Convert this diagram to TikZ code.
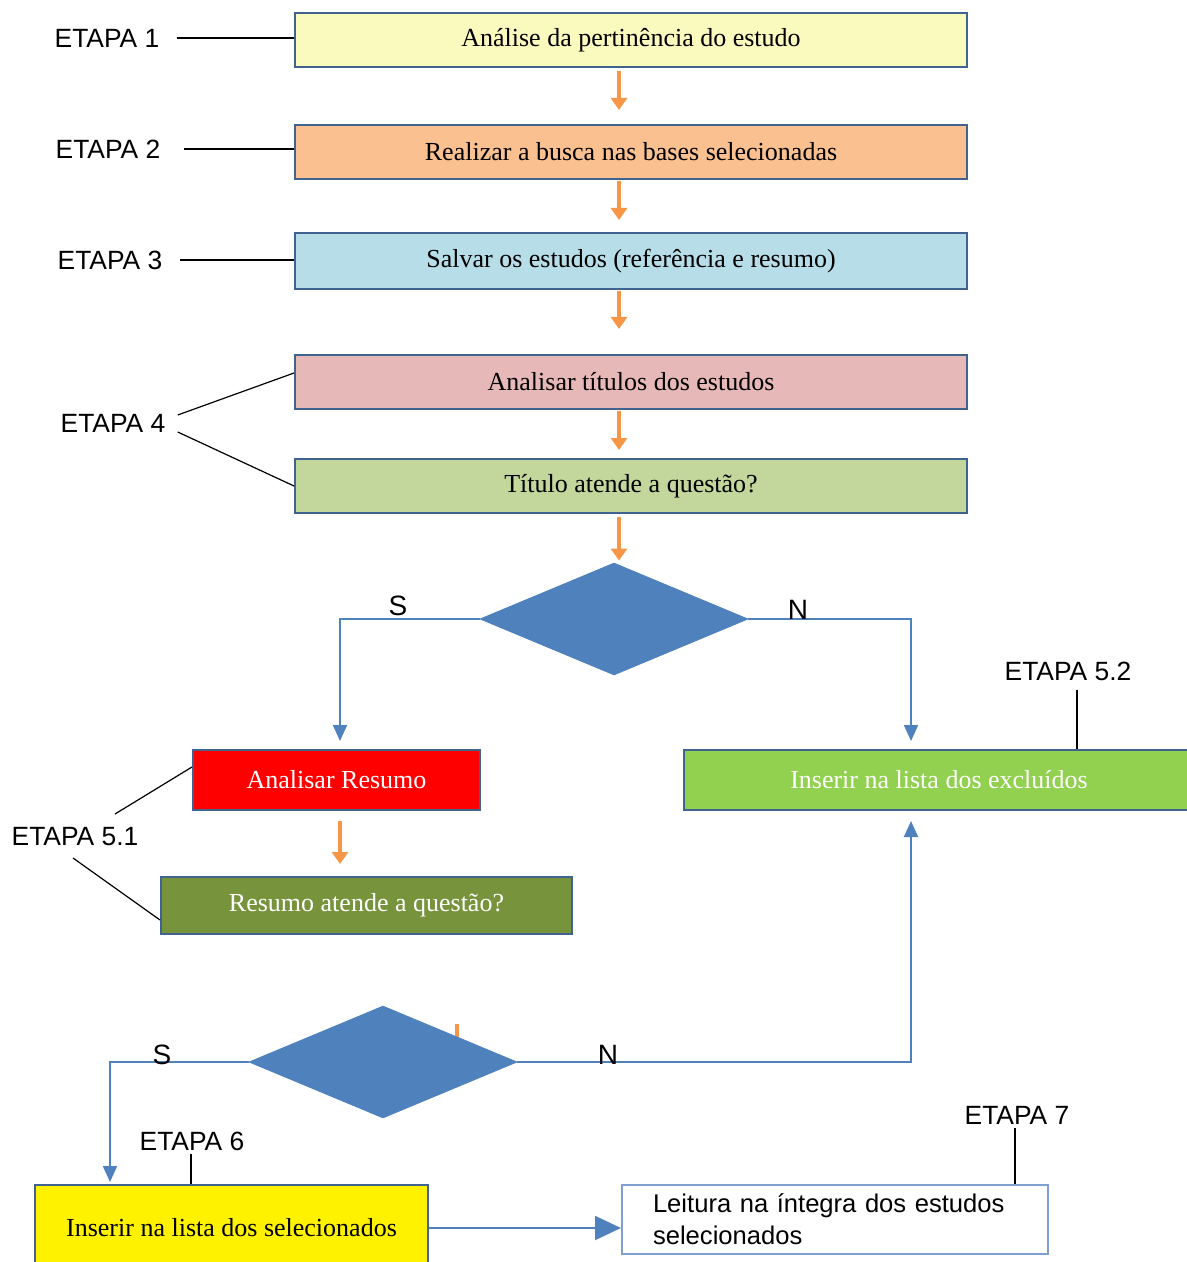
\documentclass[tikz,border=0pt]{standalone}
\usepackage{fontspec}
\setmainfont{Liberation Serif}
\newfontfamily\etapafont{Liberation Sans}
\usetikzlibrary{shapes.geometric,arrows.meta}
\definecolor{bord}{HTML}{41638F}
\definecolor{cOr}{HTML}{F79646}
\definecolor{cBl}{HTML}{4F81BD}
\definecolor{cLe}{HTML}{7F9FD3}
\definecolor{f1}{HTML}{FAF9BE}
\definecolor{f2}{HTML}{FAC090}
\definecolor{f3}{HTML}{B7DEE8}
\definecolor{f4}{HTML}{E6B9B8}
\definecolor{f5}{HTML}{C3D69B}
\definecolor{fex}{HTML}{92D050}
\definecolor{fol}{HTML}{77933C}
\begin{document}
\begin{tikzpicture}[x=0.5pt,y=-0.5pt,
  box/.style={draw=bord, line width=1pt, inner sep=0pt, font=\fontsize{13}{15}\selectfont},
  lbl/.style={font=\etapafont\fontsize{13.2}{15}\selectfont, inner sep=0pt},
  sn/.style={font=\etapafont\fontsize{14}{15}\selectfont, inner sep=0pt},
  oarr/.style={draw=cOr, line width=2.2pt, -{Triangle[width=8pt,length=6pt]}},
  barr/.style={draw=cBl, line width=1pt, -{Triangle[width=7pt,length=8pt]}},
  bigarr/.style={draw=cBl, line width=1pt, -{Triangle[width=12pt,length=13pt]}},
  conn/.style={draw=black, line width=0.6pt},
  dia/.style={diamond, fill=cBl, draw=cBl, inner sep=0pt, minimum width=134pt, minimum height=56pt}
]
\useasboundingbox (0,0) rectangle (1187,1262);

% main column boxes
\node[box, fill=f1, minimum width=336pt, minimum height=27pt] (b1) at (631,40) {Análise da pertinência do estudo};
\node[box, fill=f2, minimum width=336pt, minimum height=27pt] (b2) at (631,152) {Realizar a busca nas bases selecionadas};
\node[box, fill=f3, minimum width=336pt, minimum height=28pt] (b3) at (631,261) {Salvar os estudos (referência e resumo)};
\node[box, fill=f4, minimum width=336pt, minimum height=27pt] (b4) at (631,382) {Analisar títulos dos estudos};
\node[box, fill=f5, minimum width=336pt, minimum height=27pt] (b5) at (631,486) {Título atende a questão?};

% decision 1
\node[dia] (d1) at (614,619) {};

% second level
\node[box, fill=red, text=white, minimum width=143.5pt, minimum height=30pt] (r1) at (336.5,780) {Analisar Resumo};
\node[box, fill=fex, text=white, minimum width=255pt, minimum height=30pt] (ex) at (939,780) {Inserir na lista dos excluídos};
\node[box, fill=fol, text=white, minimum width=205.5pt, minimum height=28.5pt] (ol) at (366.5,905.5) {Resumo atende a questão?};

% hidden orange arrow remnant
\draw[cOr, line width=2pt] (457,1024) -- (457,1045);
\node[dia] (d2) at (383,1062) {};

\node[box, fill=yellow, minimum width=196.5pt, minimum height=43pt] (ye) at (231.5,1228) {Inserir na lista dos selecionados};
\node[box, draw=cLe, fill=white, font=\etapafont\fontsize{12.8}{16}\selectfont, text width=182pt, inner xsep=15.5pt, minimum height=34.5pt, align=left] (le) at (835,1219.5) {Leitura na íntegra dos estudos\\selecionados};

% etapa labels
\node[lbl] (e1) at (107,38) {ETAPA 1};
\node[lbl] (e2) at (108,149) {ETAPA 2};
\node[lbl] (e3) at (110,260) {ETAPA 3};
\node[lbl] (e4) at (113,423) {ETAPA 4};
\node[lbl] (e51) at (75,837) {ETAPA 5.1};
\node[lbl] (e52) at (1068,671) {ETAPA 5.2};
\node[lbl] (e6) at (192,1141) {ETAPA 6};
\node[lbl] (e7) at (1017,1115) {ETAPA 7};

\draw[conn] ([xshift=8.5pt]e1.east) -- (e1.east -| b1.west);
\draw[conn] ([xshift=11.5pt]e2.east) -- (e2.east -| b2.west);
\draw[conn] ([xshift=8.5pt]e3.east) -- (e3.east -| b3.west);
\draw[conn] ([xshift=6pt,yshift=4pt]e4.east) -- ([yshift=4.5pt]b4.west);
\draw[conn] ([xshift=6pt,yshift=-4.5pt]e4.east) -- (b5.west);

\coordinate (c51a) at (115,814);
\coordinate (c51b) at (73,858);
\draw[conn] (c51a) -- ([yshift=6.5pt]r1.west);
\draw[conn] (c51b) -- ([yshift=-7.25pt]ol.west);
\coordinate (c52) at (1077,690);
\draw[conn] (c52) -- (c52 |- ex.north);
\coordinate (c6) at (191,1154);
\draw[conn] (c6) -- (c6 |- ye.north);
\coordinate (c7) at (1015,1128);
\draw[conn] (c7) -- (c7 |- le.north);

% orange arrows
\draw[oarr, shorten <=1.5pt, shorten >=7pt] ([xshift=-6pt]b1.south) -- ([xshift=-6pt]b2.north);
\draw[oarr, shorten <=0.5pt, shorten >=6pt] ([xshift=-6pt]b2.south) -- ([xshift=-6pt]b3.north);
\draw[oarr, shorten <=0.5pt, shorten >=12.5pt] ([xshift=-6pt]b3.south) -- ([xshift=-6pt]b4.north);
\draw[oarr, shorten <=0.5pt, shorten >=4pt] ([xshift=-6pt]b4.south) -- ([xshift=-6pt]b5.north);
\draw[oarr, shorten <=1.5pt, shorten >=1pt] ([xshift=-6pt]b5.south) -- ([xshift=-6pt]b5.south |- d1.north);
\draw[oarr, shorten <=5pt, shorten >=6pt] ([xshift=1.75pt]r1.south) -- ([xshift=1.75pt]r1.south |- ol.north);

% blue connectors
\draw[barr] (d1.west) -| ([xshift=1.75pt,yshift=4pt]r1.north);
\draw[barr] (d1.east) -| ([xshift=-14pt,yshift=4pt]ex.north);
\draw[barr] (d2.west) -| ([xshift=-60.75pt,yshift=1pt]ye.north);
\draw[barr] (d2.east) -| ([xshift=-14pt,yshift=-5pt]ex.south);
\draw[bigarr] (ye.east) -- (ye.east -| le.west);

% S / N labels
\node[sn] (s1) at (398,606) {S};
\node[sn] (n1) at (798,610) {N};
\node[sn] (s2) at (162,1055) {S};
\node[sn] (n2) at (608,1055) {N};
\end{tikzpicture}
\end{document}
